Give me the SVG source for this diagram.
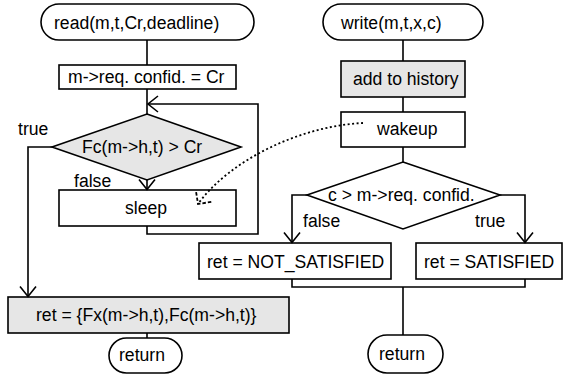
<svg xmlns="http://www.w3.org/2000/svg" width="571" height="376" viewBox="0 0 571 376">
  <style>
    .box { fill: #ffffff; stroke: #000; stroke-width: 1.6; }
    .shade { fill: #e6e6e6; stroke: #000; stroke-width: 1.6; }
    .lbl { font-family: "Liberation Sans", Arial, sans-serif; font-size: 17.6px; fill: #000; }
    .wire { fill: none; stroke: #000; stroke-width: 1.6; }
    .dots { fill: none; stroke: #000; stroke-width: 1.8; stroke-dasharray: 2 2.5; }
  </style>
  <defs>
    <marker id="open" markerUnits="userSpaceOnUse" markerWidth="24" markerHeight="24" viewBox="-12 -12 24 24" refX="0" refY="0" orient="auto">
      <path d="M-10,-8 L0,0 L-10,8" fill="none" stroke="#000" stroke-width="1.6"/>
    </marker>
    <marker id="openDot" markerUnits="userSpaceOnUse" markerWidth="30" markerHeight="30" viewBox="-15 -15 30 30" refX="0" refY="0" orient="auto">
      <path d="M-9.5,-9.5 L0,0 L-9.5,9.5" fill="none" stroke="#000" stroke-width="1.8" stroke-dasharray="3.5 2"/>
    </marker>
  </defs>

  <!-- read side -->
  <g id="read">
    <rect class="box" x="41" y="4" width="213" height="36" rx="18"/>
    <text class="lbl" x="54" y="29">read(m,t,Cr,deadline)</text>
  </g>
  <g id="set-confid">
    <rect class="box" x="59" y="65" width="177" height="24"/>
    <text class="lbl" x="68" y="83">m-&gt;req. confid. = Cr</text>
  </g>
  <g id="check-confid">
    <polygon class="shade" points="147,114 241,147 147,180 52,147"/>
    <text class="lbl" x="82" y="153">Fc(m-&gt;h,t) &gt; Cr</text>
    <text class="lbl" x="18" y="135">true</text>
    <text class="lbl" x="74" y="187">false</text>
  </g>
  <g id="sleep">
    <rect class="box" x="59" y="190" width="177" height="36"/>
    <text class="lbl" x="125" y="214">sleep</text>
  </g>
  <g id="ret-value">
    <rect class="shade" x="8" y="297" width="281" height="36"/>
    <text class="lbl" x="36" y="321">ret = {Fx(m-&gt;h,t),Fc(m-&gt;h,t)}</text>
  </g>
  <g id="read-return">
    <rect class="box" x="109" y="338" width="73" height="35" rx="17.5"/>
    <text class="lbl" x="119" y="361">return</text>
  </g>

  <!-- write side -->
  <g id="write">
    <rect class="box" x="323" y="4" width="160" height="36" rx="18"/>
    <text class="lbl" x="341" y="29">write(m,t,x,c)</text>
  </g>
  <g id="add-history">
    <rect class="shade" x="341" y="61" width="124" height="36"/>
    <text class="lbl" x="353" y="85">add to history</text>
  </g>
  <g id="wakeup">
    <rect class="box" x="341" y="112" width="124" height="35"/>
    <text class="lbl" x="377" y="135">wakeup</text>
  </g>
  <g id="check-req">
    <polygon class="box" points="403,162 500,195 403,229 307,195"/>
    <text class="lbl" x="328" y="201">c &gt; m-&gt;req. confid.</text>
    <text class="lbl" x="303" y="227">false</text>
    <text class="lbl" x="475" y="227">true</text>
  </g>
  <g id="not-satisfied">
    <rect class="box" x="199" y="243" width="192" height="36"/>
    <text class="lbl" x="207" y="268">ret = NOT_SATISFIED</text>
  </g>
  <g id="satisfied">
    <rect class="box" x="416" y="243" width="146" height="36"/>
    <text class="lbl" x="424" y="268">ret = SATISFIED</text>
  </g>
  <g id="write-return">
    <rect class="box" x="368" y="335" width="75" height="38" rx="19"/>
    <text class="lbl" x="379" y="360">return</text>
  </g>

  <!-- connectors, drawn last so the wakeup signal shows over the boxes -->
  <g id="connectors">
    <line class="wire" x1="147" y1="40" x2="147" y2="65"/>
    <line class="wire" x1="147" y1="89" x2="147" y2="114"/>
    <polyline class="wire" points="147,226 147,234 258,234 258,104 148,104" marker-end="url(#open)"/>
    <line class="wire" x1="147" y1="180" x2="147" y2="189.5" marker-end="url(#open)"/>
    <polyline class="wire" points="52,147 28,147 28,296.5" marker-end="url(#open)"/>
    <line class="wire" x1="147" y1="333" x2="147" y2="338"/>
    <line class="wire" x1="403" y1="40" x2="403" y2="61"/>
    <line class="wire" x1="403" y1="97" x2="403" y2="112"/>
    <line class="wire" x1="403" y1="147" x2="403" y2="162"/>
    <polyline class="wire" points="307,195 292,195 292,242.5" marker-end="url(#open)"/>
    <polyline class="wire" points="500,195 525,195 525,242.5" marker-end="url(#open)"/>
    <polyline class="wire" points="292,279 292,287 525,287 525,279"/>
    <line class="wire" x1="403" y1="287" x2="403" y2="335"/>
    <path class="dots" d="M363,123 C300,126 230,160 198,204" marker-end="url(#openDot)"/>
  </g>
</svg>
